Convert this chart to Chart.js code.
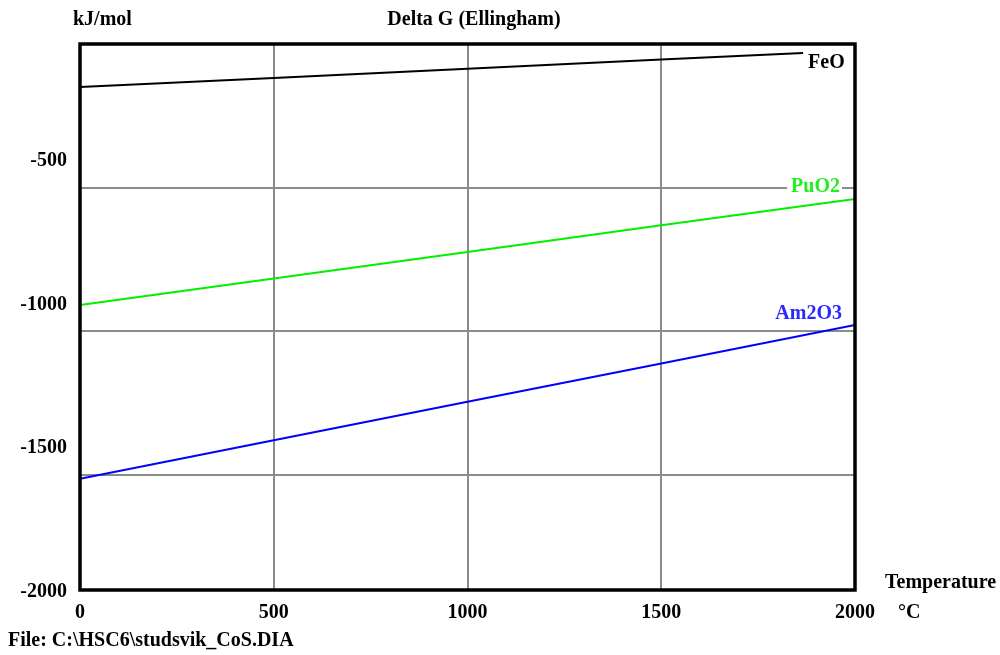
<!DOCTYPE html>
<html>
<head>
<meta charset="utf-8">
<script src="https://cdn.jsdelivr.net/npm/chart.js@4.4.1/dist/chart.umd.min.js"></script>
<style>
  html, body { margin: 0; padding: 0; background: #ffffff; }
  #wrap { width: 1000px; height: 655px; position: relative; }
</style>
</head>
<body>
<div id="wrap"><canvas id="ellingham" width="1000" height="655"></canvas></div>
<script>
// values (kJ/mol vs degrees C)
const feoTemps = [0, 500, 1000, 1500, 1866];
const feoValues = [-250, -218, -186, -154, -131];
const temps = [0, 500, 1000, 1500, 2000];
const puo2Values = [-1008, -916, -824, -731, -639];
const am2o3Values = [-1613, -1479, -1345, -1212, -1078];

const xTickLabels = [0, 500, 1000, 1500, 2000];
const yTickLabels = [-500, -1000, -1500, -2000];
const yGridValues = [-2000, -1600, -1100, -600, -100];

const serif = "'Liberation Serif', 'Times New Roman', serif";

function pts(xs, ys) {
    return xs.map(function(x, i) { return { x: x, y: ys[i] }; });
}

// texts, box and tick labels drawn on top of the chart
var decorations = {
    id: 'decorations',
    afterDraw: function(chart) {
        const ctx = chart.ctx;
        const area = chart.chartArea;
        const xs = chart.scales.x;
        const ys = chart.scales.y;
        ctx.save();

        // plot frame
        ctx.strokeStyle = '#000000';
        ctx.lineWidth = 3.5;
        ctx.strokeRect(area.left, area.top, area.right - area.left, area.bottom - area.top);

        ctx.fillStyle = '#000000';
        ctx.font = 'bold 20px ' + serif;
        ctx.textBaseline = 'middle';

        // y tick labels
        ctx.textAlign = 'right';
        yTickLabels.forEach(function(v) {
            ctx.fillText(String(v), 67, ys.getPixelForValue(v) + 2);
        });

        // x tick labels
        ctx.textAlign = 'center';
        xTickLabels.forEach(function(v) {
            ctx.fillText(String(v), xs.getPixelForValue(v), area.bottom + 23);
        });

        // titles
        ctx.textAlign = 'left';
        ctx.fillText('kJ/mol', 73, 20);
        ctx.textAlign = 'center';
        ctx.fillText('Delta G (Ellingham)', 474, 20);
        ctx.textAlign = 'left';
        ctx.fillText('Temperature', 885, 583);
        ctx.fillText('\u00b0C', 898, 613);
        ctx.fillText('File: C:\\HSC6\\studsvik_CoS.DIA', 8, 641);

        // series labels near the line ends
        chart.data.datasets.forEach(function(ds, i) {
            const meta = chart.getDatasetMeta(i);
            const last = meta.data[meta.data.length - 1];
            const w = ctx.measureText(ds.label).width;
            let lx, ly;
            if (i === 0) {
                lx = last.x + 5; ly = last.y + 10;
            } else if (i === 1) {
                lx = last.x - 15 - w; ly = last.y - 12;
            } else {
                lx = last.x - 13 - w; ly = last.y - 11;
            }
            ctx.fillStyle = '#ffffff';
            ctx.fillRect(lx - 4, ly - 9, w + 6, 18);
            ctx.fillStyle = ds.labelColor;
            ctx.fillText(ds.label, lx, ly);
        });

        ctx.restore();
    }
};

new Chart(document.getElementById('ellingham'), {
    type: 'scatter',
    data: {
        datasets: [{
            label: 'FeO',
            data: pts(feoTemps, feoValues),
            borderColor: '#000000',
            labelColor: '#000000'
        }, {
            label: 'PuO2',
            data: pts(temps, puo2Values),
            borderColor: '#00f000',
            labelColor: '#22ee22'
        }, {
            label: 'Am2O3',
            data: pts(temps, am2o3Values),
            borderColor: '#0000ff',
            labelColor: '#2a2aff'
        }]
    },
    options: {
        responsive: false,
        animation: false,
        showLine: true,
        elements: {
            point: { radius: 0 },
            line: { borderWidth: 2, tension: 0 }
        },
        layout: {
            padding: { left: 80, top: 44, right: 145, bottom: 65 }
        },
        plugins: {
            legend: { display: false },
            tooltip: { enabled: false }
        },
        scales: {
            x: {
                type: 'linear',
                min: 0,
                max: 2000,
                afterBuildTicks: function(s) {
                    s.ticks = xTickLabels.map(function(v) { return { value: v }; });
                },
                afterFit: function(s) { s.height = 0; },
                ticks: { display: false },
                border: { display: false },
                grid: { color: '#8c8c8c', lineWidth: 2, drawTicks: false }
            },
            y: {
                type: 'linear',
                min: -2000,
                max: -100,
                afterBuildTicks: function(s) {
                    s.ticks = yGridValues.map(function(v) { return { value: v }; });
                },
                afterFit: function(s) { s.width = 0; },
                ticks: { display: false },
                border: { display: false },
                grid: { color: '#8c8c8c', lineWidth: 2, drawTicks: false }
            }
        }
    },
    plugins: [decorations]
});
</script>
</body>
</html>
